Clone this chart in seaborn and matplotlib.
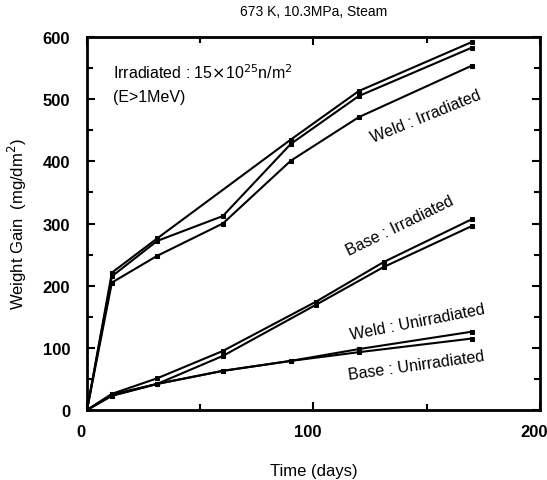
import numpy as np
import pandas as pd
import seaborn as sns
import matplotlib.pyplot as plt
import matplotlib.ticker as ticker
import matplotlib.transforms as mtransforms

# データ
days_weld_top = [0, 11, 31, 90, 120, 170]
weld_irr_a = [0, 221, 276, 435, 513, 592]

days_full = [0, 11, 31, 60, 90, 120, 170]
weld_irr_b = [0, 215, 272, 312, 428, 505, 583]
weld_irr_c = [0, 205, 248, 300, 401, 471, 554]
weld_unirr = [0, 25, 42, 63, 79, 98, 126]
base_unirr = [0, 23, 42, 63, 79, 93, 115]

days_base = [0, 11, 31, 60, 101, 131, 170]
base_irr_a = [0, 26, 51, 95, 174, 238, 307]
base_irr_b = [0, 23, 42, 87, 169, 230, 296]

series = [
    (days_weld_top, weld_irr_a),
    (days_full, weld_irr_b),
    (days_full, weld_irr_c),
    (days_base, base_irr_a),
    (days_base, base_irr_b),
    (days_full, weld_unirr),
    (days_full, base_unirr),
]

sns.set_style("ticks")
plt.rcParams['font.family'] = ['Liberation Sans', 'DejaVu Sans']
plt.rcParams['text.color'] = 'black'
plt.rcParams['axes.labelcolor'] = 'black'
plt.rcParams['xtick.color'] = 'black'
plt.rcParams['ytick.color'] = 'black'

fig = plt.figure(figsize=(5.47, 4.81), dpi=100)
ax = fig.add_axes([0.159, 0.1455, 0.828, 0.7755])

for x, y in series:
    sns.lineplot(x=x, y=y, ax=ax, color="black", linewidth=1.5,
                 marker="s", markersize=3.5, markeredgecolor="black",
                 sort=False, estimator=None)

ax.set_xlim(0, 200)
ax.set_ylim(0, 600)

ax.xaxis.set_major_locator(ticker.MultipleLocator(100))
ax.xaxis.set_minor_locator(ticker.MultipleLocator(50))
ax.yaxis.set_major_locator(ticker.MultipleLocator(100))
ax.yaxis.set_minor_locator(ticker.MultipleLocator(50))

ax.tick_params(which="both", direction="in", top=True, right=True, width=1.5)
ax.tick_params(which="major", length=6)
ax.tick_params(which="minor", length=4)
ax.tick_params(axis="x", which="major", pad=10, labelsize=12)
ax.tick_params(axis="y", which="major", pad=12, labelsize=12)

# スキャン画像に合わせてx目盛ラベルを少し左へずらす
shift = mtransforms.ScaledTranslation(-6 / 100, 0, fig.dpi_scale_trans)
for lab in ax.get_xticklabels():
    lab.set_fontweight("bold")
    lab.set_transform(lab.get_transform() + shift)
for lab in ax.get_yticklabels():
    lab.set_fontweight("bold")

for s in ax.spines.values():
    s.set_linewidth(2)
    s.set_color("black")

ax.set_xlabel("Time (days)", fontsize=12, labelpad=17)
ax.set_ylabel("Weight Gain  (mg/dm$^2$)", fontsize=12, labelpad=10)
ax.set_title("673 K, 10.3MPa, Steam", fontsize=10, pad=16)

# 注記
ax.text(11.5, 545, "Irradiated : 15$\\times$10$^{25}$n/m$^2$", fontsize=11.5, va="center")
ax.text(11.5, 505, "(E>1MeV)", fontsize=11.5, va="center")
ax.text(149.5, 474, "Weld : Irradiated", fontsize=11.5, rotation=22, ha="center", va="center")
ax.text(138, 297, "Base : Irradiated", fontsize=11.5, rotation=26, ha="center", va="center")
ax.text(146, 143, "Weld : Unirradiated", fontsize=11.5, rotation=11, ha="center", va="center")
ax.text(145.5, 72, "Base : Unirradiated", fontsize=11.5, rotation=8, ha="center", va="center")

plt.savefig("out.png", dpi=100)
plt.close()
